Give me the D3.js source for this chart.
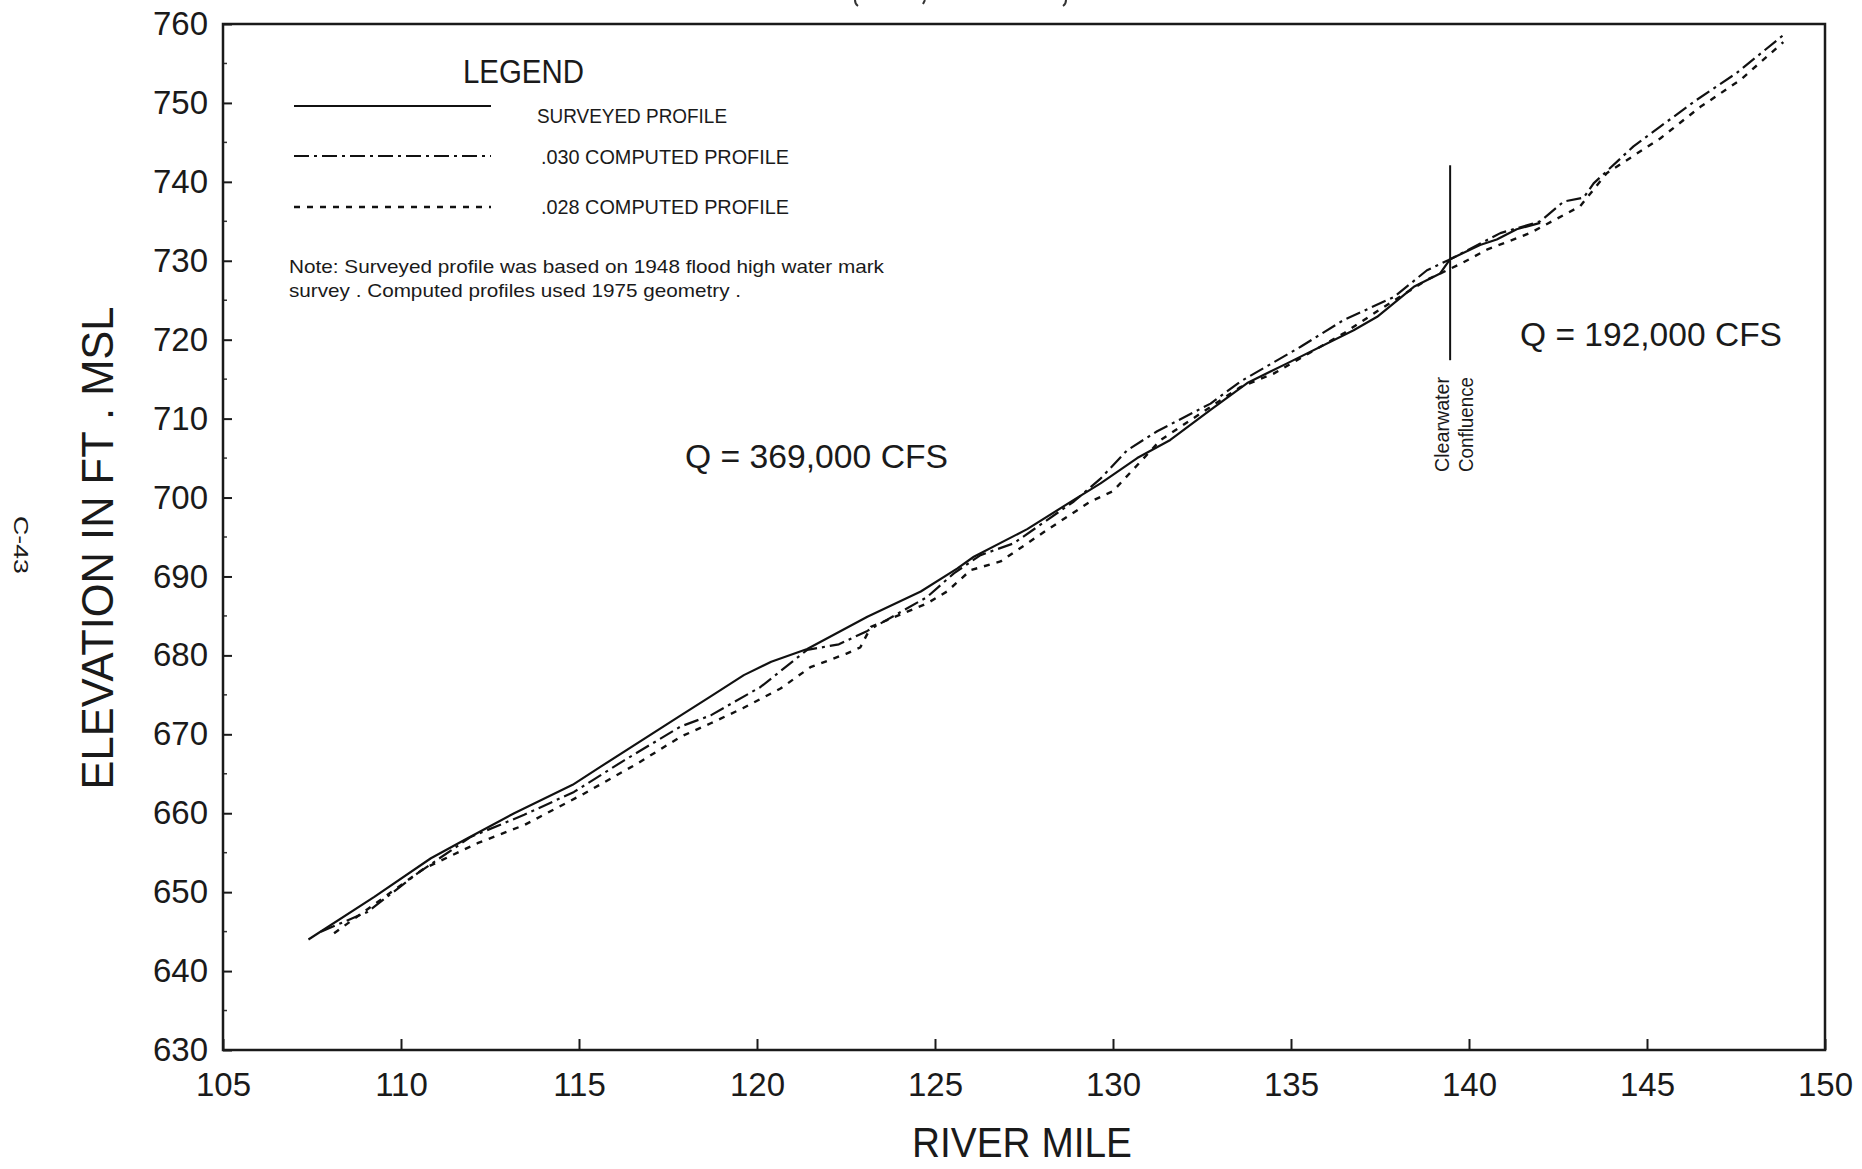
<!DOCTYPE html>
<html>
<head>
<meta charset="utf-8">
<script src="https://cdn.jsdelivr.net/npm/d3@7"></script>
<style>
  body { margin: 0; background: #fff; }
  text { fill: #1a1a1a; }
</style>
</head>
<body>
<div id="chart"></div>
<script>
// river profile data (river mile, elevation ft msl)
var surveyedMiles = [107.4, 109.25, 110.84, 111.78, 113.18, 114.82, 115.61, 117.86, 118.7, 119.63, 120.4, 121.41, 123.1, 124.6, 125.62, 126.09, 127.59, 128.9, 129.65, 130.68, 131.61, 132.74, 133.77, 134.89, 136.76, 137.42, 138.45, 139.19, 139.47, 140.31, 140.78, 141.34, 142.0];
var surveyedElev  = [644.0, 649.4, 654.3, 656.6, 660.0, 663.6, 665.9, 672.4, 674.8, 677.5, 679.2, 680.8, 684.9, 688.1, 691.0, 692.5, 696.0, 699.7, 701.8, 705.0, 707.3, 711.1, 714.5, 717.0, 721.2, 722.9, 726.7, 728.4, 730.2, 732.0, 732.7, 734.0, 734.8];

var computed030Miles = [107.75, 109.06, 110.47, 111.96, 113.46, 114.86, 116.27, 117.86, 118.7, 120.1, 121.41, 122.3, 123.1, 124.78, 125.53, 126.28, 127.21, 128.9, 129.65, 130.4, 131.24, 132.74, 133.58, 135.27, 136.48, 137.89, 138.82, 139.43, 140.88, 142.0, 142.66, 143.22, 143.5, 144.62, 145.37, 146.4, 147.52, 148.83];
var computed030Elev  = [645.0, 647.5, 652.4, 657.0, 659.8, 662.7, 666.7, 671.0, 672.4, 676.0, 680.7, 681.4, 683.1, 687.4, 690.4, 692.7, 694.2, 699.5, 702.4, 706.0, 708.4, 711.9, 714.7, 719.1, 722.5, 725.4, 728.8, 730.1, 733.5, 735.0, 737.5, 738.0, 739.8, 744.5, 747.0, 750.4, 753.8, 758.6];

var computed028Miles = [108.12, 110.65, 112.15, 113.46, 115.15, 116.64, 117.86, 118.7, 119.6, 120.66, 121.5, 122.5, 122.9, 123.2, 124.78, 125.34, 126.0, 126.84, 128.15, 129.37, 130.0, 131.34, 133.58, 134.51, 136.48, 137.42, 138.82, 139.76, 140.5, 141.71, 143.12, 143.87, 145.37, 146.5, 147.62, 148.83];
var computed028Elev  = [644.8, 653.0, 656.2, 658.5, 662.5, 666.3, 669.7, 671.4, 673.3, 675.8, 678.5, 680.2, 681.0, 683.6, 686.6, 688.1, 690.8, 691.9, 695.9, 699.5, 700.8, 707.3, 714.0, 715.7, 720.8, 723.6, 727.6, 729.6, 731.4, 733.5, 736.9, 741.1, 745.5, 749.5, 752.9, 757.7];

// Clearwater confluence marker
var confluenceMile = 139.47;
var confluenceElev = [717.4, 742.1];

var xTicks = [105, 110, 115, 120, 125, 130, 135, 140, 145, 150];
var yTicks = [630, 640, 650, 660, 670, 680, 690, 700, 710, 720, 730, 740, 750, 760];
var yMinorTicks = [635, 645, 655, 665, 675, 685, 695, 705, 715, 725, 735, 745, 755];

var legendLabels = ["SURVEYED PROFILE", ".030 COMPUTED PROFILE", ".028 COMPUTED PROFILE"];
var noteLines = ["Note:  Surveyed profile was based on 1948 flood high water mark",
                 "survey .   Computed profiles used 1975 geometry ."];
var flowLabels = ["Q = 369,000 CFS", "Q = 192,000 CFS"];

var width = 1862;
var height = 1169;
var plotLeft = 223, plotRight = 1825, plotTop = 24, plotBottom = 1050;

var narrow = "'Liberation Sans Narrow', 'Arial Narrow', 'Liberation Sans', Arial, sans-serif";
var wide = "'Liberation Sans', Arial, sans-serif";

var svg = d3.select("#chart")
    .append("svg")
    .attr("width", width)
    .attr("height", height);

svg.append("rect")
    .attr("width", width)
    .attr("height", height)
    .attr("fill", "#fff");

var x = d3.scaleLinear().domain([105, 150]).range([plotLeft, plotRight]);
var y = d3.scaleLinear().domain([630, 760]).range([plotBottom, plotTop]);

// axes with inward ticks
var xAxis = svg.append("g")
    .attr("transform", "translate(0," + plotBottom + ")")
    .call(d3.axisBottom(x).tickValues(xTicks).tickSizeInner(-11).tickSizeOuter(0).tickPadding(23).tickFormat(d3.format("d")));

xAxis.selectAll("text")
    .style("font-family", narrow)
    .style("font-size", "33px");

var yAxis = svg.append("g")
    .attr("transform", "translate(" + plotLeft + ",0)")
    .call(d3.axisLeft(y).tickValues(yTicks).tickSizeInner(-9).tickSizeOuter(0).tickPadding(15).tickFormat(d3.format("d")));

yAxis.selectAll("text")
    .style("font-family", wide)
    .style("font-size", "33px");

svg.selectAll(".domain").remove();
svg.selectAll(".tick line").attr("stroke", "#1a1a1a").attr("stroke-width", 2);

svg.selectAll(".minor")
    .data(yMinorTicks)
    .enter()
    .append("line")
    .attr("x1", plotLeft)
    .attr("x2", plotLeft + 4)
    .attr("y1", function(d) { return y(d); })
    .attr("y2", function(d) { return y(d); })
    .attr("stroke", "#333")
    .attr("stroke-width", 1.5);

// plot frame
svg.append("rect")
    .attr("x", plotLeft)
    .attr("y", plotTop)
    .attr("width", plotRight - plotLeft)
    .attr("height", plotBottom - plotTop)
    .attr("fill", "none")
    .attr("stroke", "#1a1a1a")
    .attr("stroke-width", 2.5);

// profiles
var line = d3.line()
    .x(function(d) { return x(d[0]); })
    .y(function(d) { return y(d[1]); });

var series = [
    { pts: d3.zip(surveyedMiles, surveyedElev), dash: null, w: 2.2 },
    { pts: d3.zip(computed030Miles, computed030Elev), dash: "15,5,3,5", w: 2.2 },
    { pts: d3.zip(computed028Miles, computed028Elev), dash: "6,7", w: 2.4 }
];

svg.selectAll(".profile")
    .data(series)
    .enter()
    .append("path")
    .attr("class", "profile")
    .attr("d", function(d) { return line(d.pts); })
    .attr("fill", "none")
    .attr("stroke", "#111")
    .attr("stroke-width", function(d) { return d.w; })
    .attr("stroke-dasharray", function(d) { return d.dash; })
    .attr("stroke-linejoin", "round");

// confluence line + label
svg.append("line")
    .attr("x1", x(confluenceMile))
    .attr("x2", x(confluenceMile))
    .attr("y1", y(confluenceElev[0]))
    .attr("y2", y(confluenceElev[1]))
    .attr("stroke", "#111")
    .attr("stroke-width", 2);

svg.append("text")
    .attr("transform", "translate(1449,472) rotate(-90)")
    .attr("textLength", 95)
    .attr("lengthAdjust", "spacingAndGlyphs")
    .style("font-family", wide)
    .style("font-size", "21px")
    .text("Clearwater");

svg.append("text")
    .attr("transform", "translate(1473,472) rotate(-90)")
    .attr("textLength", 95)
    .attr("lengthAdjust", "spacingAndGlyphs")
    .style("font-family", wide)
    .style("font-size", "21px")
    .text("Confluence");

// flow labels
svg.append("text")
    .attr("x", 685).attr("y", 468)
    .attr("textLength", 263)
    .attr("lengthAdjust", "spacingAndGlyphs")
    .style("font-family", wide)
    .style("font-size", "34px")
    .text(flowLabels[0]);

svg.append("text")
    .attr("x", 1520).attr("y", 346)
    .attr("textLength", 262)
    .attr("lengthAdjust", "spacingAndGlyphs")
    .style("font-family", wide)
    .style("font-size", "34px")
    .text(flowLabels[1]);

// legend
svg.append("text")
    .attr("x", 463).attr("y", 83)
    .attr("textLength", 121)
    .attr("lengthAdjust", "spacingAndGlyphs")
    .style("font-family", narrow)
    .style("font-size", "33px")
    .text("LEGEND");

var legendY = [106, 156, 207];
var legendTextY = [123, 164, 214];
var legendTextX = [537, 541, 541];
var legendTextW = [190, 248, 248];

svg.selectAll(".legline")
    .data(series)
    .enter()
    .append("line")
    .attr("x1", 294)
    .attr("x2", 491)
    .attr("y1", function(d, i) { return legendY[i]; })
    .attr("y2", function(d, i) { return legendY[i]; })
    .attr("stroke", "#111")
    .attr("stroke-width", function(d) { return d.w; })
    .attr("stroke-dasharray", function(d) { return d.dash; });

svg.selectAll(".legtext")
    .data(legendLabels)
    .enter()
    .append("text")
    .attr("x", function(d, i) { return legendTextX[i]; })
    .attr("y", function(d, i) { return legendTextY[i]; })
    .attr("textLength", function(d, i) { return legendTextW[i]; })
    .attr("lengthAdjust", "spacingAndGlyphs")
    .style("font-family", narrow)
    .style("font-size", "21px")
    .text(function(d) { return d; });

svg.selectAll(".note")
    .data(noteLines)
    .enter()
    .append("text")
    .attr("x", 289)
    .attr("y", function(d, i) { return 273 + i * 24; })
    .attr("textLength", function(d, i) { return i === 0 ? 595 : 452; })
    .attr("lengthAdjust", "spacingAndGlyphs")
    .style("font-family", narrow)
    .style("font-size", "19px")
    .text(function(d) { return d; });

// axis titles
svg.append("text")
    .attr("transform", "translate(113,548) rotate(-90)")
    .attr("text-anchor", "middle")
    .attr("textLength", 483)
    .attr("lengthAdjust", "spacingAndGlyphs")
    .style("font-family", wide)
    .style("font-size", "44px")
    .text("ELEVATION IN FT .  MSL");

svg.append("text")
    .attr("x", 912).attr("y", 1157)
    .attr("textLength", 220)
    .attr("lengthAdjust", "spacingAndGlyphs")
    .style("font-family", narrow)
    .style("font-size", "42px")
    .text("RIVER  MILE");

// page number at far left
svg.append("text")
    .attr("transform", "translate(14,516) rotate(90)")
    .attr("textLength", 58)
    .attr("lengthAdjust", "spacingAndGlyphs")
    .style("font-family", wide)
    .style("font-size", "21px")
    .text("C-43");

// bottoms of the cropped-off title glyphs at the top edge
svg.append("path")
    .attr("d", "M855,0 Q855,4 858,6 M925,0 L923,4 M1066,0 Q1066,4 1063,6")
    .attr("fill", "none")
    .attr("stroke", "#333")
    .attr("stroke-width", 2);
</script>
</body>
</html>
